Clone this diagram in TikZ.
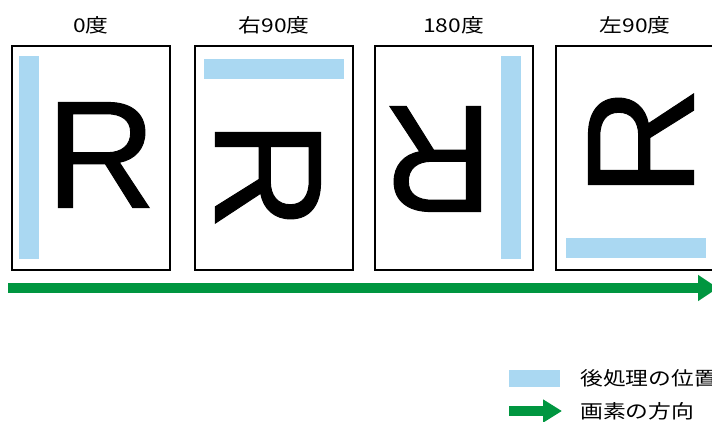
\documentclass[tikz,border=0pt]{standalone}
\usepackage{fontspec}
\newfontfamily\cjk[FakeStretch=1.2]{Noto Sans CJK JP}
\newfontfamily\glyphfont[FakeBold=0.6]{Liberation Sans}
\usetikzlibrary{positioning}
\usetikzlibrary{arrows.meta}

\definecolor{barblue}{RGB}{170,216,242}
\definecolor{dirgreen}{RGB}{0,150,64}

\begin{document}
\begin{tikzpicture}[
        x = 1pt, y = -1pt, % pixel units, y down
        page/.style = {draw, line width=2pt, minimum width=158pt, minimum height=224pt, inner sep=0pt},
        bar/.style = {fill=barblue, inner sep=0pt},
        glyph/.style = {font=\glyphfont\fontsize{153}{153}\selectfont, inner sep=0pt},
        lbl/.style = {font=\cjk\fontsize{19}{19}\selectfont, inner sep=0pt},
        dirarrow/.style = {draw=dirgreen, line width=10pt, -{Triangle[length=20pt, width=25pt]}}
        ]
  \useasboundingbox (0,0) rectangle (712,421);
  \clip (0,0) rectangle (712,421);

  % pages
  \node[page] (p0) at (91,157.5) {};
  \node[page] (p90r) at (274,157.5) {};
  \node[page] (p180) at (453.5,157.5) {};
  \node[page] (p90l) at (635,157.5) {};

  \node[lbl] (t0) at (91,25) {0度};
  \node[lbl] (t90r) at (274,25) {右90度};
  \node[lbl] (t180) at (453.5,25) {180度};
  \node[lbl] (t90l) at (635,25) {左90度};

  % post-processing position
  \node[bar, minimum width=20pt, minimum height=203pt] (b0) at (29,157.5) {};
  \node[bar, minimum width=140pt, minimum height=20pt] (b90r) at (274,69) {};
  \node[bar, minimum width=20pt, minimum height=203pt] (b180) at (511,157.5) {};
  \node[bar, minimum width=140pt, minimum height=20pt] (b90l) at (636,248) {};

  % the letter, turned
  \node[glyph] (r0) at (101,155) {R};
  \node[glyph, rotate=-90] (r90r) at (268,175) {R};
  \node[glyph, rotate=180] (r180) at (438,159) {R};
  \node[glyph, rotate=90] (r90l) at (641,142) {R};

  \coordinate (dirA) at (8,288);
  \coordinate (dirB) at (718,288);
  \draw[dirarrow] (dirA) -- (dirB);

  % legend
  \node[bar, minimum width=51pt, minimum height=17pt] (keybar) at (534.5,378.5) {};
  \node[lbl, anchor=west] (keybartext) at (580,378) {後処理の位置};
  \coordinate (keyA) at (509,411);
  \coordinate (keyB) at (562,411);
  \draw[dirarrow, -{Triangle[length=19pt, width=22pt]}] (keyA) -- (keyB);
  \node[lbl, anchor=west] (keyarrtext) at (580,411) {画素の方向};

\end{tikzpicture}
\end{document}
